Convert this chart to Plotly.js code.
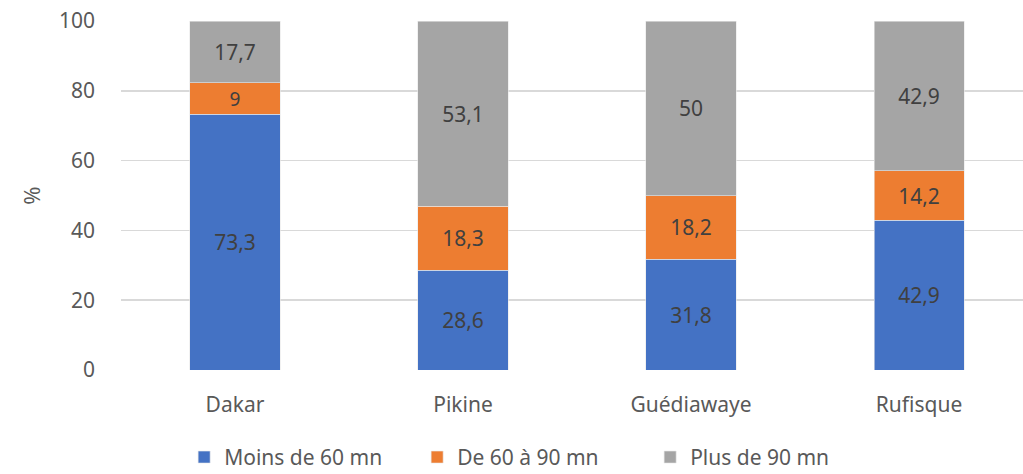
<!DOCTYPE html>
<html><head><meta charset="utf-8">
<script src="https://cdn.plot.ly/plotly-3.0.1.min.js"></script>
<style>body{margin:0;background:#fff}#c{width:1023px;height:474px}</style>
</head><body><div id="c"></div>
<script>
const categories = ['Dakar', 'Pikine', 'Guédiawaye', 'Rufisque'];
const moins60 = [73.3, 28.6, 31.8, 42.9];
const de60a90 = [9, 18.3, 18.2, 14.2];
const plus90 = [17.7, 53.1, 50, 42.9];
const seriesNames = ['Moins de 60 mn', 'De 60 à 90 mn', 'Plus de 90 mn'];
const colors = ['#4472C4', '#ED7D31', '#A5A5A5'];
const yTicks = [0, 20, 40, 60, 80, 100];

const fmt = v => String(v).replace('.', ',');
const font = 'Noto Sans, Open Sans, sans-serif';
const traces = [moins60, de60a90, plus90].map((vals, i) => ({
  type: 'bar', name: seriesNames[i], x: categories, y: vals,
  text: vals.map(fmt), textposition: 'inside', insidetextanchor: 'middle', textangle: 0,
  textfont: {family: font, size: 21, color: '#404040'},
  marker: {color: colors[i], line: {color: '#e8e8e8', width: 0.6}},
  hoverinfo: 'none'
}));

Plotly.newPlot('c', traces, {
  width: 1023, height: 474, barmode: 'stack', bargap: 0.605,
  margin: {l: 121, r: 0, t: 21, b: 104, autoexpand: false},
  paper_bgcolor: '#fff', plot_bgcolor: '#fff',
  font: {family: font, color: '#595959', size: 21},
  xaxis: {range: [-0.5, 3.456], showgrid: false, zeroline: false, showline: false,
          tickfont: {size: 21, color: '#595959'}, ticks: '', ticklabelstandoff: 20},
  yaxis: {range: [0, 100], tickvals: yTicks, ticktext: yTicks.map(String),
          gridcolor: '#d9d9d9', gridwidth: 1.5, zeroline: false, showline: false,
          tickfont: {size: 21, color: '#595959'}, ticks: '', ticklabelstandoff: 25,
          title: {text: '%', font: {size: 22, color: '#595959'}, standoff: 12}},
  showlegend: true,
  legend: {orientation: 'h', x: 0.18, xanchor: 'left', xref: 'container', y: 0.035, yanchor: 'middle', yref: 'container',
           font: {size: 21, color: '#595959'}, traceorder: 'normal', itemwidth: 30,
           entrywidth: 188, entrywidthmode: 'pixels'},
  uniformtext: {mode: false}
}, {staticPlot: true});
</script></body></html>
